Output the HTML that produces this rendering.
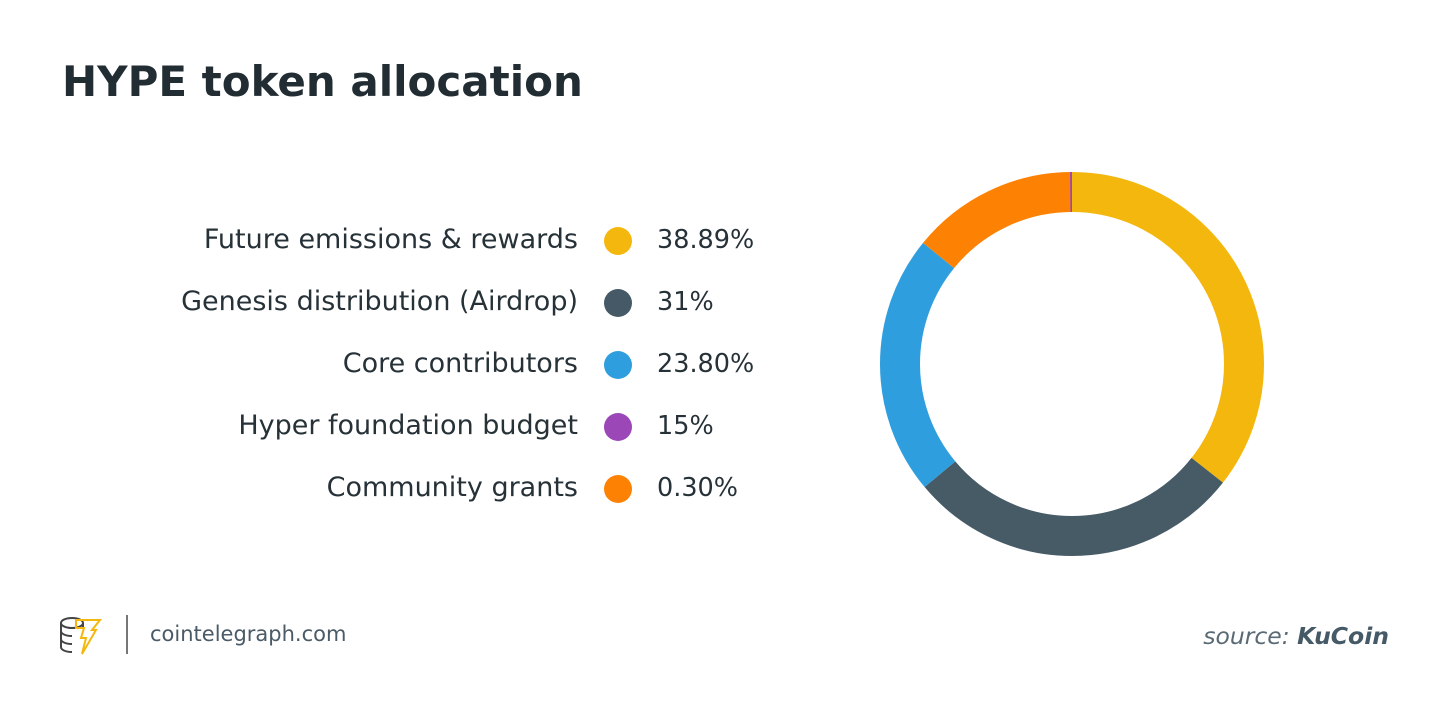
<!DOCTYPE html>
<html><head><meta charset="utf-8"><style>
body{margin:0;width:1450px;height:715px;background:#fff;position:relative;overflow:hidden;font-family:"DejaVu Sans",sans-serif;color:#263238}
.t{position:absolute;left:62px;top:57px;font-size:42px;font-weight:bold;color:#222d33;white-space:nowrap}
.lab{position:absolute;right:872px;font-size:27px;color:#263238;white-space:nowrap}
.dot{position:absolute;left:604px;width:28px;height:28px;border-radius:50%}
.pc{position:absolute;left:657px;font-size:25.5px;color:#263238}
</style></head><body>
<div class="t">HYPE token allocation</div>
<div class="lab" style="top:224px">Future emissions &amp; rewards</div>
<div class="lab" style="top:286px">Genesis distribution (Airdrop)</div>
<div class="lab" style="top:348px">Core contributors</div>
<div class="lab" style="top:410px">Hyper foundation budget</div>
<div class="lab" style="top:472px">Community grants</div>
<div class="dot" style="top:227px;background:#f4b70e"></div>
<div class="dot" style="top:289px;background:#455a66"></div>
<div class="dot" style="top:351px;background:#2f9ede"></div>
<div class="dot" style="top:413px;background:#9c47b8"></div>
<div class="dot" style="top:475px;background:#fd8204"></div>
<div class="pc" style="top:225px">38.89%</div>
<div class="pc" style="top:287px">31%</div>
<div class="pc" style="top:349px">23.80%</div>
<div class="pc" style="top:411px">15%</div>
<div class="pc" style="top:473px">0.30%</div>
<svg width="1450" height="715" style="position:absolute;left:0;top:0">
<g transform="translate(1072,364) rotate(-90)" fill="none" stroke-width="40">
<circle r="172" stroke="#f4b70e" stroke-dasharray="384.6 2000" stroke-dashoffset="0"/>
<circle r="172" stroke="#475b67" stroke-dasharray="306 2000" stroke-dashoffset="-384.6"/>
<circle r="172" stroke="#2f9ede" stroke-dasharray="237 2000" stroke-dashoffset="-690.6"/>
<circle r="172" stroke="#fd8204" stroke-dasharray="151.6 2000" stroke-dashoffset="-927.6"/>
<circle r="172" stroke="#9c47b8" stroke-dasharray="2 2000" stroke-dashoffset="-1078.5"/>
</g>
<g fill="none" stroke="#444" stroke-width="2">
<ellipse cx="72" cy="623" rx="11" ry="5"/>
<path d="M61 623v24M83 623v4M61 631c0 3 5 5 11 5M61 639c0 3 5 5 11 5M61 647c0 3 5 5 11 5"/>
</g>
<path d="M76 620h24l-8 10h4l-14 24 4-16h-5l3-10h-8z" fill="none" stroke="#f4b70e" stroke-width="2"/>
<line x1="127" y1="615" x2="127" y2="654" stroke="#777" stroke-width="2"/>
<text x="150" y="641" font-size="21" fill="#4a5a66" font-family="DejaVu Sans,sans-serif">cointelegraph.com</text>
<text x="1389" y="644" font-size="23.5" text-anchor="end" font-style="italic" fill="#5a6a75" font-family="DejaVu Sans,sans-serif">source: <tspan font-weight="bold" fill="#455a66">KuCoin</tspan></text>
</svg>
</body></html>
